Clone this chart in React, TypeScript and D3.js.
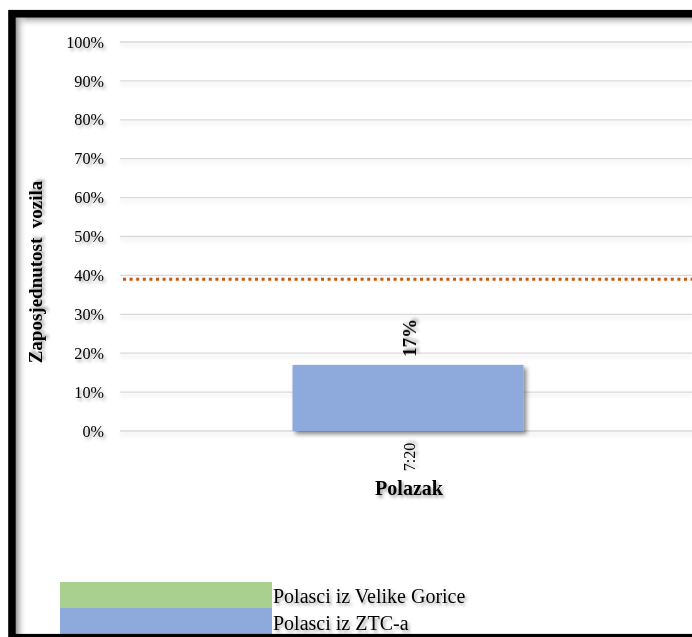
import React from "react";
import * as d3 from "d3";

const categories: string[] = ["7:20"];
const seriesZTC: number[] = [0.17];
const dataLabels: string[] = ["17%"];
const yTicks: number[] = [0, 0.1, 0.2, 0.3, 0.4, 0.5, 0.6, 0.7, 0.8, 0.9, 1.0];
const referenceValue: number[] = [0.39];
const legendItems: string[] = ["Polasci iz Velike Gorice", "Polasci iz ZTC-a"];
const legendColors: string[] = ["#A9D08E", "#8EA9DB"];
const yTitle = "Zaposjednutost  vozila";
const xTitle = "Polazak";

const W = 692;
const H = 637;
const FONT = "'Liberation Serif', 'Times New Roman', serif";

export default function App() {
  const y = d3.scaleLinear().domain([0, 1]).range([431, 42]);
  const x = d3.scaleBand<string>().domain(categories).range([120, 696]).padding(0.4275);
  const fmt = d3.format(".0%");

  return (
    <svg
      width={W}
      height={H}
      style={{ position: "absolute", left: 0, top: 0, background: "#fff" }}
      fontFamily={FONT}
    >
      <defs>
        <filter id="ts" x="-20%" y="-20%" width="160%" height="180%">
          <feDropShadow dx="2" dy="2.5" stdDeviation="1.8" floodColor="#000" floodOpacity="0.35" />
        </filter>
        <filter id="bs" x="-10%" y="-10%" width="130%" height="140%">
          <feDropShadow dx="3" dy="3" stdDeviation="2.2" floodColor="#000" floodOpacity="0.45" />
        </filter>
        <filter id="gs" x="-5%" y="-300%" width="110%" height="900%">
          <feDropShadow dx="0" dy="3" stdDeviation="2" floodColor="#000" floodOpacity="0.12" />
        </filter>
        <linearGradient id="gTop" x1="0" y1="0" x2="0" y2="1">
          <stop offset="0" stopColor="#9a9a9a" />
          <stop offset="1" stopColor="#ffffff" stopOpacity="0" />
        </linearGradient>
        <linearGradient id="gLeft" x1="0" y1="0" x2="1" y2="0">
          <stop offset="0" stopColor="#9a9a9a" />
          <stop offset="1" stopColor="#ffffff" stopOpacity="0" />
        </linearGradient>
      </defs>

      {/* inner frame shadows */}
      <rect x={16} y={17} width={W} height={11} fill="url(#gTop)" />
      <rect x={16} y={17} width={11} height={H} fill="url(#gLeft)" />

      {/* gridlines */}
      <g filter="url(#gs)">
        {yTicks.map((t) => (
          <line key={t} x1={120} x2={W} y1={y(t)} y2={y(t)} stroke="#d9d9d9" strokeWidth={1.3} />
        ))}
      </g>

      {/* y tick labels */}
      <g filter="url(#ts)">
        {yTicks.map((t) => (
          <text key={t} x={104} y={y(t)} dy="0.35em" textAnchor="end" fontSize={16.2} fill="#000">
            {fmt(t)}
          </text>
        ))}
      </g>

      {/* bars */}
      {categories.map((c, i) => (
        <rect
          key={c}
          x={x(c)}
          y={y(seriesZTC[i])}
          width={x.bandwidth()}
          height={y(0) - y(seriesZTC[i])}
          fill={legendColors[1]}
          filter="url(#bs)"
        />
      ))}

      {/* reference dotted line */}
      {referenceValue.map((v, i) => (
        <line
          key={i}
          x1={123}
          x2={W}
          y1={y(v)}
          y2={y(v)}
          stroke="#C55A11"
          strokeWidth={3}
          strokeDasharray="3 3.6"
        />
      ))}

      {/* data labels */}
      {categories.map((c, i) => {
        const cx = (x(c) as number) + x.bandwidth() / 2;
        return (
          <text
            key={c}
            transform={`translate(${cx + 8},${y(seriesZTC[i]) - 27}) rotate(-90)`}
            textAnchor="middle"
            fontSize={19}
            fontWeight="bold"
            filter="url(#ts)"
          >
            {dataLabels[i]}
          </text>
        );
      })}

      {/* category labels */}
      {categories.map((c) => {
        const cx = (x(c) as number) + x.bandwidth() / 2;
        return (
          <text
            key={c}
            transform={`translate(${cx + 7},${457}) rotate(-90)`}
            textAnchor="middle"
            fontSize={16}
            filter="url(#ts)"
          >
            {c}
          </text>
        );
      })}

      {/* axis titles */}
      <text x={409} y={495} textAnchor="middle" fontSize={20} fontWeight="bold" filter="url(#ts)">
        {xTitle}
      </text>
      <text
        transform={`translate(42,272) rotate(-90)`}
        textAnchor="middle"
        fontSize={19}
        fontWeight="bold"
        filter="url(#ts)"
        style={{ whiteSpace: "pre" }}
        xmlSpace="preserve"
      >
        {yTitle}
      </text>

      {/* legend */}
      {legendItems.map((name, i) => (
        <g key={name}>
          <rect x={60} y={582 + i * 26} width={212} height={26} fill={legendColors[i]} />
          <text x={273} y={603 + i * 27} fontSize={20} filter="url(#ts)">
            {name}
          </text>
        </g>
      ))}

      {/* outer black frame */}
      <rect x={12} y={13.7} width={W + 20} height={624} fill="none" stroke="#000" strokeWidth={7.6} />
    </svg>
  );
}
